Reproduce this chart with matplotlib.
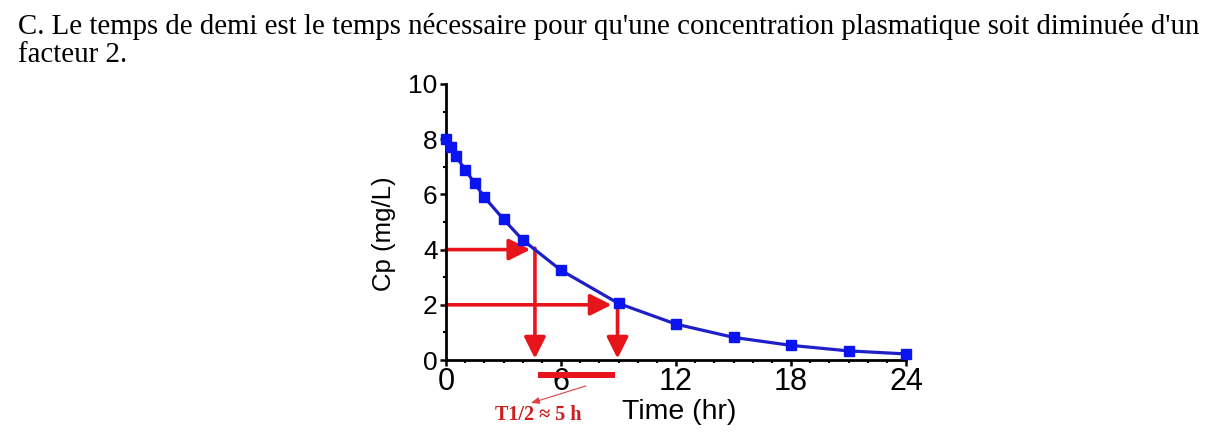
import matplotlib
matplotlib.use("Agg")
import matplotlib.pyplot as plt
from matplotlib.ticker import MultipleLocator

# ---- data ----
time_hr = [0, 0.25, 0.5, 1, 1.5, 2, 3, 4, 6, 9, 12, 15, 18, 21, 24]
cp_mgL = [8.0, 7.7, 7.4, 6.9, 6.4, 5.9, 5.1, 4.35, 3.25, 2.05, 1.3, 0.82, 0.53, 0.33, 0.22]
x_ticks = [0, 6, 12, 18, 24]
y_ticks = [0, 2, 4, 6, 8, 10]

# half-life construction
half_levels = [4, 2]          # concentrations
half_arrow_tip = [4.4, 8.64]  # where horizontal arrows end (hr)
half_times = [4.64, 8.95]     # vertical drop lines (hr)
bar_span = [4.8, 8.82]        # red bar under axis (hr)
bar_level = -0.54
note_text = "T1/2 \u2248 5 h"
note_arrow_from = (7.3, -0.94)
note_arrow_to = (4.43, -1.56)
note_pos = (2.56, -2.17)

title_line1 = "C. Le temps de demi est le temps n\u00e9cessaire pour qu'une concentration plasmatique soit diminu\u00e9e d'un"
title_line2 = "facteur 2."

RED = "#e8141b"
BLUE_LINE = "#1f1fc8"
BLUE_MK = "#0a14f0"

fig = plt.figure(figsize=(12.21, 4.40), dpi=100)
fig.patch.set_facecolor("white")

W, H = 1221, 440
ax = fig.add_axes([446 / W, 1 - 360 / H, (906 - 446) / W, (360 - 84) / H])

ax.plot(time_hr, cp_mgL, color=BLUE_LINE, lw=2.3, zorder=3, clip_on=False)
ax.plot(time_hr, cp_mgL, ls="none", marker="s", ms=7.5, color=BLUE_MK,
        mec=BLUE_MK, zorder=4, clip_on=False)

astyle = "-|>,head_length=1.0,head_width=0.5"
for lvl, tip, tv in zip(half_levels, half_arrow_tip, half_times):
    ax.annotate("", xy=(tip, lvl), xytext=(0, lvl),
                arrowprops=dict(arrowstyle=astyle, mutation_scale=13,
                                color=RED, lw=2.6, shrinkA=0, shrinkB=0),
                zorder=2)
    ax.annotate("", xy=(tv, 0.05), xytext=(tv, lvl + 0.05),
                arrowprops=dict(arrowstyle=astyle, mutation_scale=13,
                                color=RED, lw=2.6, shrinkA=0, shrinkB=0),
                zorder=2)

ax.plot(bar_span, [bar_level, bar_level], color=RED, lw=4.3, clip_on=False,
        solid_capstyle="butt", zorder=5)
ax.annotate("", xy=note_arrow_to, xytext=note_arrow_from,
            arrowprops=dict(arrowstyle="-|>,head_length=0.5,head_width=0.2",
                            mutation_scale=10, color="#e04040", lw=0.8,
                            shrinkA=0, shrinkB=0), annotation_clip=False)
ax.text(note_pos[0], note_pos[1], note_text, color="#cc1f1f", fontsize=14.5,
        fontweight="bold", family="Liberation Serif", va="baseline", ha="left",
        clip_on=False)

ax.set_xlim(0, 24)
ax.set_ylim(0, 10)
ax.set_xticks(x_ticks)
ax.set_yticks(y_ticks)
ax.xaxis.set_minor_locator(MultipleLocator(1))
ax.yaxis.set_minor_locator(MultipleLocator(1))
for s in ["top", "right"]:
    ax.spines[s].set_visible(False)
for s in ["left", "bottom"]:
    ax.spines[s].set_linewidth(2.0)
ax.tick_params(which="major", length=4, width=1.8, direction="out")
ax.tick_params(which="minor", length=2.5, width=1.5, direction="out")
ax.tick_params(axis="x", which="major", labelsize=22, pad=1)
ax.tick_params(axis="y", which="major", labelsize=19, pad=2)
for lab in ax.get_xticklabels() + ax.get_yticklabels():
    lab.set_family("Liberation Sans")

ax.set_xlabel("Time (hr)", fontsize=20.5, family="Liberation Sans")
ax.xaxis.set_label_coords(0.507, -0.19)
ax.xaxis.label.set_va("center")
ax.set_ylabel("Cp (mg/L)", fontsize=18.5, family="Liberation Sans")
ax.yaxis.set_label_coords(-0.135, 0.457)
ax.yaxis.label.set_va("center")

fig.text(18 / W, 1 - 34 / H, title_line1, family="Liberation Serif",
         fontsize=20.75, va="baseline", ha="left")
fig.text(18 / W, 1 - 62 / H, title_line2, family="Liberation Serif",
         fontsize=20.75, va="baseline", ha="left")

fig.savefig("out.png", dpi=100, facecolor="white")
